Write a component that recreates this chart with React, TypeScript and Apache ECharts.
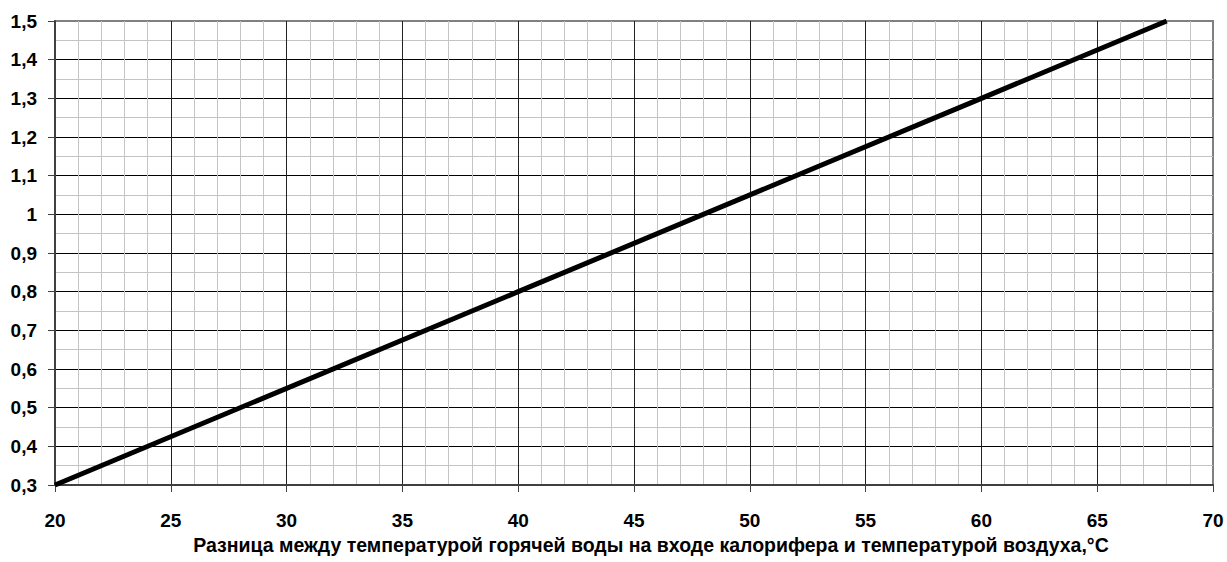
import React, { useEffect, useRef } from "react";
import * as echarts from "echarts";

const xValues = [20, 40, 60, 68];
const yValues = [0.3, 0.8, 1.3, 1.5];
const xAxisTitle =
  "Разница между температурой горячей воды на входе калорифера и температурой воздуха,°C";

const fmtY = (v: number) => String(Number(v.toFixed(2))).replace(".", ",");

export default function App() {
  const ref = useRef<HTMLDivElement>(null);
  useEffect(() => {
    document.body.style.margin = "0";
    const chart = echarts.init(ref.current!, null, { renderer: "svg" });
    const font = "'Liberation Sans', Arial, sans-serif";
    chart.setOption({
      animation: false,
      backgroundColor: "#ffffff",
      grid: {
        left: 55,
        top: 21,
        right: 14,
        bottom: 77,
        show: true,
        borderColor: "#808080",
        borderWidth: 2,
        backgroundColor: "transparent",
      },
      xAxis: {
        type: "value",
        min: 20,
        max: 70,
        interval: 5,
        name: xAxisTitle,
        nameLocation: "middle",
        nameGap: 43,
        nameTextStyle: {
          fontFamily: font,
          fontWeight: "bold",
          fontSize: 19.5,
          color: "#000",
          padding: [0, 0, 0, 34],
          verticalAlign: "top",
        },
        axisLine: { show: true, onZero: false, lineStyle: { color: "#404040", width: 2 } },
        axisTick: { show: true, length: 7, lineStyle: { color: "#404040", width: 1 } },
        axisLabel: {
          margin: 26,
          fontFamily: font,
          fontWeight: "bold",
          fontSize: 19,
          color: "#000",
        },
        splitLine: { show: true, showMinLine: false, showMaxLine: false, lineStyle: { color: "#222", width: 1 } },
        minorTick: { show: false, splitNumber: 5 },
        minorSplitLine: { show: true, lineStyle: { color: "#c4c4c4", width: 1 } },
      },
      yAxis: {
        type: "value",
        min: 0.3,
        max: 1.5,
        interval: 0.1,
        axisLine: { show: true, onZero: false, lineStyle: { color: "#404040", width: 2 } },
        axisTick: { show: true, length: 7, lineStyle: { color: "#404040", width: 1 } },
        axisLabel: {
          margin: 18,
          fontFamily: font,
          fontWeight: "bold",
          fontSize: 19,
          color: "#000",
          formatter: (v: number) => fmtY(v),
        },
        splitLine: { show: true, showMinLine: false, showMaxLine: false, lineStyle: { color: "#000", width: 1 } },
        minorTick: { show: false, splitNumber: 2 },
        minorSplitLine: { show: true, lineStyle: { color: "#c4c4c4", width: 1 } },
      },
      series: [
        {
          type: "line",
          data: xValues.map((x, i) => [x, yValues[i]]),
          showSymbol: false,
          symbol: "none",
          lineStyle: { color: "#000", width: 5 },
          z: 5,
        },
      ],
    });
    return () => chart.dispose();
  }, []);
  return <div ref={ref} style={{ width: 1227, height: 562 }} />;
}
